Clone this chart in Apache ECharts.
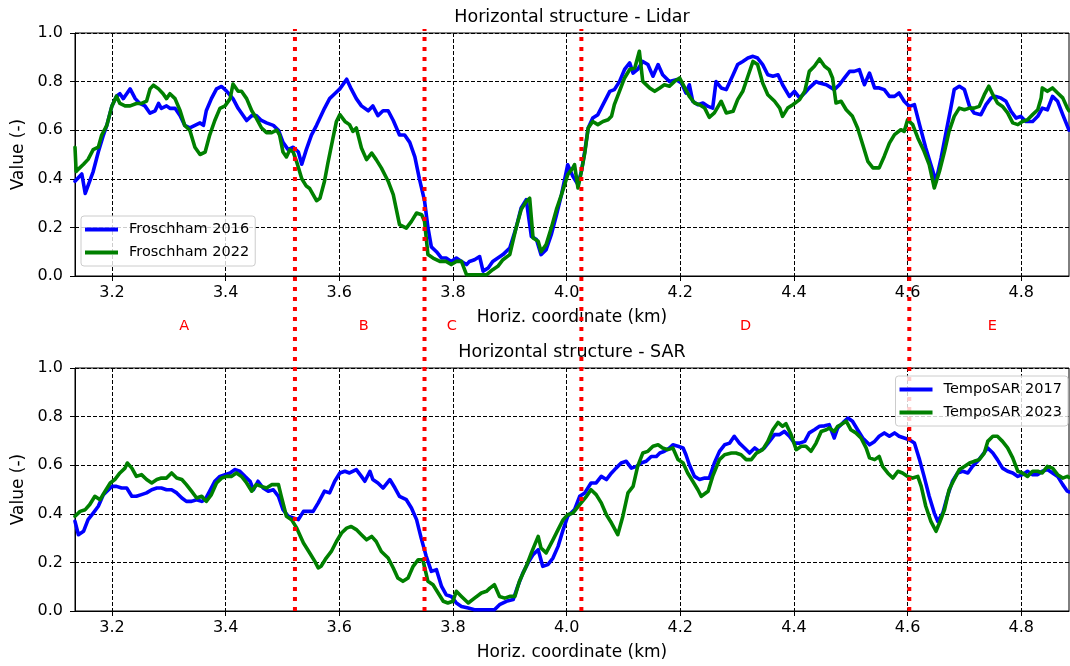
<!DOCTYPE html>
<html>
<head>
<meta charset="utf-8">
<script src="https://cdn.jsdelivr.net/npm/echarts@6/dist/echarts.min.js"></script>
<style>
  html, body { margin: 0; padding: 0; background: #fff; }
  #main { width: 1070px; height: 666px; }
</style>
</head>
<body>
<div id="main"></div>
<script>
var FONT = "DejaVu Sans";

// axis range and ticks (km)
var xMin = 3.135, xMax = 4.884;
var xTicks = [3.2, 3.4, 3.6, 3.8, 4.0, 4.2, 4.4, 4.6, 4.8];

// region boundaries (red dotted lines) and region letters
var boundaries = [3.522, 3.750, 4.026, 4.603];
var regionNames = ["A", "B", "C", "D", "E"];
var regionPos = [3.327, 3.643, 3.798, 4.315, 4.749];

// Lidar profiles [km, value]
var lidar2016 = [
  [3.135,0.39],[3.147,0.42],[3.153,0.34],[3.167,0.43],[3.176,0.51],[3.185,0.58],[3.191,0.62],[3.200,0.70],
  [3.208,0.74],[3.214,0.75],[3.220,0.73],[3.226,0.75],[3.232,0.77],[3.241,0.73],[3.249,0.71],[3.258,0.70],
  [3.267,0.67],[3.276,0.68],[3.282,0.71],[3.287,0.69],[3.296,0.70],[3.302,0.69],[3.311,0.69],[3.320,0.66],
  [3.328,0.62],[3.337,0.61],[3.346,0.62],[3.355,0.63],[3.361,0.62],[3.366,0.68],[3.375,0.73],[3.384,0.77],
  [3.393,0.78],[3.402,0.76],[3.413,0.73],[3.422,0.69],[3.437,0.64],[3.446,0.66],[3.454,0.66],[3.463,0.64],
  [3.472,0.63],[3.484,0.62],[3.493,0.60],[3.501,0.55],[3.510,0.52],[3.519,0.53],[3.528,0.51],[3.534,0.46],
  [3.542,0.52],[3.551,0.58],[3.560,0.62],[3.574,0.69],[3.583,0.73],[3.592,0.75],[3.601,0.77],[3.613,0.81],
  [3.621,0.77],[3.630,0.73],[3.639,0.70],[3.651,0.68],[3.659,0.70],[3.668,0.66],[3.677,0.68],[3.686,0.68],
  [3.695,0.64],[3.706,0.58],[3.715,0.58],[3.724,0.55],[3.733,0.49],[3.741,0.40],[3.750,0.31],[3.756,0.20],
  [3.762,0.12],[3.771,0.10],[3.780,0.074],[3.788,0.074],[3.797,0.06],[3.806,0.074],[3.815,0.06],[3.824,0.047],
  [3.829,0.06],[3.838,0.067],[3.847,0.08],[3.853,0.02],[3.862,0.033],[3.870,0.06],[3.879,0.074],[3.888,0.088],
  [3.900,0.115],[3.911,0.197],[3.920,0.28],[3.929,0.314],[3.938,0.163],[3.947,0.15],[3.955,0.088],[3.964,0.108],
  [3.973,0.17],[3.982,0.25],[3.991,0.335],[4.002,0.458],[4.011,0.41],[4.020,0.376],[4.026,0.43],[4.032,0.513],
  [4.038,0.609],[4.046,0.65],[4.055,0.664],[4.064,0.705],[4.076,0.76],[4.084,0.767],[4.093,0.80],[4.102,0.85],
  [4.111,0.877],[4.117,0.835],[4.125,0.85],[4.134,0.883],[4.143,0.87],[4.152,0.822],[4.161,0.87],[4.169,0.828],
  [4.181,0.80],[4.193,0.808],[4.202,0.794],[4.210,0.753],[4.216,0.787],[4.222,0.719],[4.231,0.705],[4.240,0.712],
  [4.249,0.698],[4.257,0.691],[4.263,0.80],[4.272,0.774],[4.281,0.767],[4.293,0.828],[4.301,0.87],[4.310,0.883],
  [4.319,0.897],[4.328,0.904],[4.336,0.897],[4.345,0.87],[4.354,0.828],[4.363,0.822],[4.372,0.828],[4.380,0.787],
  [4.392,0.739],[4.401,0.76],[4.410,0.733],[4.419,0.753],[4.427,0.774],[4.439,0.80],[4.445,0.794],[4.457,0.787],
  [4.471,0.767],[4.480,0.787],[4.489,0.815],[4.498,0.842],[4.506,0.842],[4.515,0.849],[4.524,0.787],[4.533,0.835],
  [4.542,0.774],[4.550,0.774],[4.559,0.767],[4.568,0.739],[4.577,0.739],[4.585,0.753],[4.594,0.719],[4.603,0.698],
  [4.612,0.705],[4.621,0.623],[4.632,0.527],[4.641,0.458],[4.650,0.39],[4.659,0.486],[4.668,0.595],[4.676,0.691],
  [4.682,0.767],[4.691,0.781],[4.700,0.767],[4.709,0.698],[4.717,0.671],[4.729,0.664],[4.738,0.705],[4.747,0.733],
  [4.755,0.739],[4.764,0.733],[4.773,0.719],[4.782,0.678],[4.791,0.65],[4.799,0.657],[4.808,0.636],[4.820,0.636],
  [4.829,0.657],[4.837,0.691],[4.846,0.684],[4.855,0.739],[4.864,0.719],[4.873,0.664],[4.884,0.60]
];
var lidar2022 = [
  [3.135,0.53],[3.137,0.43],[3.141,0.44],[3.150,0.46],[3.158,0.48],[3.167,0.52],[3.176,0.53],[3.182,0.58],
  [3.191,0.62],[3.200,0.70],[3.208,0.74],[3.214,0.71],[3.223,0.70],[3.232,0.70],[3.243,0.71],[3.252,0.71],
  [3.261,0.72],[3.267,0.77],[3.273,0.785],[3.282,0.77],[3.290,0.75],[3.296,0.73],[3.302,0.75],[3.311,0.73],
  [3.320,0.68],[3.328,0.62],[3.337,0.60],[3.346,0.53],[3.355,0.50],[3.364,0.51],[3.372,0.58],[3.381,0.64],
  [3.390,0.69],[3.399,0.70],[3.408,0.73],[3.413,0.79],[3.422,0.76],[3.428,0.76],[3.437,0.73],[3.446,0.68],
  [3.454,0.65],[3.463,0.61],[3.472,0.59],[3.481,0.59],[3.490,0.60],[3.495,0.58],[3.501,0.51],[3.507,0.49],
  [3.513,0.52],[3.519,0.51],[3.525,0.47],[3.534,0.40],[3.542,0.37],[3.548,0.36],[3.560,0.31],[3.566,0.32],
  [3.574,0.39],[3.580,0.465],[3.589,0.568],[3.595,0.636],[3.601,0.664],[3.610,0.636],[3.618,0.623],[3.624,0.595],
  [3.630,0.609],[3.639,0.527],[3.648,0.479],[3.657,0.506],[3.665,0.479],[3.674,0.445],[3.686,0.39],[3.695,0.335],
  [3.706,0.211],[3.718,0.197],[3.727,0.225],[3.736,0.259],[3.745,0.252],[3.750,0.225],[3.756,0.088],[3.765,0.074],
  [3.777,0.06],[3.788,0.06],[3.797,0.047],[3.806,0.06],[3.815,0.06],[3.824,0.005],[3.835,0.005],[3.847,0.005],
  [3.859,0.005],[3.870,0.026],[3.879,0.04],[3.888,0.067],[3.900,0.088],[3.911,0.197],[3.920,0.273],[3.929,0.307],
  [3.935,0.32],[3.941,0.156],[3.950,0.143],[3.955,0.10],[3.964,0.129],[3.973,0.197],[3.982,0.273],[3.991,0.335],
  [4.002,0.417],[4.011,0.445],[4.014,0.458],[4.020,0.362],[4.026,0.43],[4.032,0.506],[4.038,0.609],[4.046,0.636],
  [4.055,0.623],[4.064,0.636],[4.073,0.643],[4.079,0.657],[4.084,0.705],[4.093,0.76],[4.102,0.815],[4.111,0.85],
  [4.120,0.856],[4.128,0.925],[4.134,0.801],[4.146,0.774],[4.155,0.76],[4.164,0.774],[4.172,0.787],[4.181,0.781],
  [4.190,0.801],[4.199,0.815],[4.208,0.774],[4.216,0.739],[4.225,0.712],[4.234,0.705],[4.243,0.691],[4.251,0.653],
  [4.260,0.671],[4.272,0.719],[4.281,0.671],[4.293,0.678],[4.301,0.726],[4.310,0.76],[4.319,0.822],[4.328,0.883],
  [4.336,0.87],[4.345,0.794],[4.354,0.746],[4.366,0.719],[4.375,0.691],[4.380,0.657],[4.389,0.691],[4.398,0.705],
  [4.410,0.726],[4.419,0.76],[4.427,0.842],[4.436,0.863],[4.445,0.893],[4.454,0.863],[4.462,0.849],[4.468,0.815],
  [4.474,0.712],[4.483,0.719],[4.492,0.684],[4.503,0.657],[4.512,0.609],[4.521,0.541],[4.530,0.472],[4.539,0.445],
  [4.550,0.445],[4.559,0.493],[4.568,0.547],[4.577,0.582],[4.588,0.602],[4.594,0.595],[4.600,0.643],[4.609,0.623],
  [4.618,0.568],[4.629,0.513],[4.638,0.458],[4.647,0.362],[4.656,0.43],[4.665,0.513],[4.673,0.595],[4.682,0.657],
  [4.691,0.691],[4.700,0.684],[4.709,0.691],[4.717,0.691],[4.726,0.698],[4.735,0.746],[4.743,0.781],[4.750,0.746],
  [4.758,0.712],[4.767,0.698],[4.776,0.671],[4.785,0.63],[4.794,0.623],[4.802,0.636],[4.811,0.643],[4.820,0.664],
  [4.829,0.684],[4.835,0.733],[4.837,0.774],[4.846,0.76],[4.855,0.774],[4.864,0.753],[4.873,0.733],[4.881,0.691],
  [4.884,0.68]
];

// SAR profiles [km, value]
var sar2017 = [
  [3.135,0.369],[3.141,0.314],[3.150,0.328],[3.158,0.376],[3.167,0.403],[3.176,0.431],[3.185,0.479],[3.194,0.499],
  [3.200,0.513],[3.208,0.513],[3.217,0.506],[3.226,0.506],[3.235,0.472],[3.243,0.472],[3.252,0.479],[3.261,0.486],
  [3.270,0.499],[3.279,0.506],[3.287,0.506],[3.296,0.499],[3.305,0.499],[3.314,0.486],[3.323,0.465],[3.331,0.451],
  [3.340,0.451],[3.349,0.458],[3.358,0.451],[3.364,0.458],[3.372,0.493],[3.381,0.534],[3.390,0.554],[3.399,0.561],
  [3.408,0.568],[3.416,0.582],[3.425,0.575],[3.434,0.554],[3.443,0.534],[3.449,0.499],[3.457,0.534],[3.466,0.506],
  [3.475,0.493],[3.484,0.499],[3.493,0.472],[3.501,0.417],[3.510,0.39],[3.519,0.383],[3.528,0.376],[3.537,0.41],
  [3.545,0.41],[3.554,0.41],[3.563,0.445],[3.574,0.493],[3.583,0.486],[3.592,0.534],[3.601,0.568],[3.610,0.575],
  [3.618,0.568],[3.630,0.582],[3.639,0.554],[3.645,0.534],[3.654,0.575],[3.659,0.541],[3.668,0.527],[3.677,0.506],
  [3.689,0.541],[3.698,0.506],[3.706,0.472],[3.718,0.458],[3.727,0.424],[3.736,0.376],[3.744,0.301],[3.753,0.225],
  [3.762,0.163],[3.771,0.17],[3.780,0.101],[3.788,0.067],[3.797,0.06],[3.806,0.033],[3.815,0.019],[3.827,0.012],
  [3.838,0.005],[3.850,0.005],[3.862,0.005],[3.873,0.005],[3.882,0.026],[3.894,0.04],[3.906,0.047],[3.914,0.101],
  [3.923,0.156],[3.932,0.197],[3.941,0.232],[3.950,0.252],[3.958,0.184],[3.967,0.191],[3.976,0.218],[3.985,0.266],
  [3.994,0.335],[4.002,0.39],[4.014,0.417],[4.023,0.472],[4.032,0.486],[4.043,0.527],[4.052,0.527],[4.061,0.554],
  [4.070,0.541],[4.079,0.568],[4.087,0.588],[4.096,0.609],[4.105,0.616],[4.114,0.588],[4.123,0.595],[4.131,0.609],
  [4.140,0.616],[4.149,0.636],[4.158,0.636],[4.164,0.65],[4.172,0.657],[4.181,0.671],[4.187,0.684],[4.196,0.678],
  [4.205,0.671],[4.210,0.643],[4.216,0.602],[4.225,0.554],[4.234,0.541],[4.243,0.547],[4.251,0.547],[4.260,0.609],
  [4.269,0.657],[4.278,0.684],[4.287,0.691],[4.295,0.719],[4.304,0.691],[4.313,0.671],[4.322,0.65],[4.331,0.671],
  [4.339,0.657],[4.348,0.671],[4.357,0.698],[4.366,0.726],[4.375,0.726],[4.383,0.739],[4.392,0.719],[4.401,0.691],
  [4.410,0.691],[4.419,0.698],[4.427,0.733],[4.436,0.746],[4.445,0.76],[4.454,0.762],[4.462,0.767],[4.471,0.712],
  [4.477,0.753],[4.486,0.774],[4.495,0.794],[4.503,0.781],[4.512,0.746],[4.521,0.712],[4.533,0.684],[4.542,0.698],
  [4.550,0.719],[4.559,0.733],[4.568,0.719],[4.577,0.733],[4.585,0.719],[4.594,0.712],[4.603,0.705],[4.612,0.691],
  [4.621,0.623],[4.629,0.554],[4.638,0.472],[4.647,0.403],[4.653,0.369],[4.662,0.403],[4.670,0.472],[4.679,0.534],
  [4.688,0.568],[4.697,0.575],[4.706,0.568],[4.714,0.595],[4.723,0.616],[4.732,0.643],[4.741,0.671],[4.750,0.65],
  [4.758,0.623],[4.767,0.588],[4.776,0.575],[4.785,0.568],[4.794,0.554],[4.802,0.561],[4.811,0.575],[4.820,0.561],
  [4.829,0.561],[4.837,0.575],[4.846,0.582],[4.855,0.568],[4.864,0.554],[4.873,0.52],[4.881,0.493],[4.884,0.49]
];
var sar2023 = [
  [3.135,0.39],[3.144,0.41],[3.153,0.417],[3.161,0.438],[3.170,0.472],[3.179,0.458],[3.188,0.493],[3.197,0.527],
  [3.205,0.541],[3.214,0.568],[3.223,0.588],[3.227,0.609],[3.235,0.588],[3.243,0.554],[3.252,0.561],[3.261,0.541],
  [3.270,0.527],[3.279,0.541],[3.287,0.547],[3.296,0.547],[3.305,0.568],[3.314,0.547],[3.323,0.541],[3.331,0.52],
  [3.340,0.493],[3.349,0.465],[3.358,0.472],[3.366,0.451],[3.375,0.479],[3.384,0.527],[3.393,0.547],[3.402,0.554],
  [3.410,0.554],[3.419,0.568],[3.428,0.554],[3.437,0.527],[3.446,0.493],[3.454,0.52],[3.463,0.513],[3.472,0.506],
  [3.481,0.52],[3.493,0.52],[3.498,0.472],[3.507,0.39],[3.516,0.376],[3.525,0.342],[3.537,0.28],[3.548,0.239],
  [3.557,0.204],[3.563,0.177],[3.568,0.184],[3.577,0.218],[3.586,0.245],[3.595,0.286],[3.604,0.321],[3.613,0.341],
  [3.621,0.348],[3.630,0.335],[3.639,0.314],[3.648,0.293],[3.657,0.307],[3.665,0.286],[3.674,0.245],[3.686,0.218],
  [3.695,0.177],[3.703,0.136],[3.712,0.122],[3.721,0.136],[3.730,0.184],[3.739,0.211],[3.747,0.211],[3.756,0.122],
  [3.765,0.108],[3.774,0.074],[3.783,0.04],[3.791,0.033],[3.800,0.04],[3.806,0.081],[3.815,0.06],[3.827,0.033],
  [3.838,0.053],[3.850,0.074],[3.859,0.081],[3.865,0.094],[3.873,0.108],[3.882,0.06],[3.891,0.053],[3.900,0.06],
  [3.909,0.06],[3.917,0.122],[3.929,0.184],[3.938,0.239],[3.950,0.307],[3.955,0.259],[3.964,0.239],[3.976,0.293],
  [3.985,0.335],[3.994,0.376],[4.002,0.396],[4.011,0.403],[4.014,0.396],[4.023,0.438],[4.035,0.472],[4.043,0.499],
  [4.052,0.479],[4.061,0.445],[4.070,0.396],[4.079,0.362],[4.090,0.314],[4.099,0.39],[4.108,0.486],[4.117,0.513],
  [4.125,0.595],[4.134,0.65],[4.143,0.657],[4.152,0.678],[4.161,0.684],[4.169,0.671],[4.178,0.664],[4.187,0.671],
  [4.196,0.623],[4.205,0.609],[4.213,0.568],[4.222,0.534],[4.231,0.499],[4.237,0.472],[4.249,0.493],[4.257,0.554],
  [4.269,0.623],[4.278,0.643],[4.290,0.65],[4.298,0.65],[4.307,0.643],[4.316,0.623],[4.325,0.623],[4.334,0.65],
  [4.345,0.664],[4.354,0.698],[4.363,0.746],[4.372,0.776],[4.380,0.76],[4.386,0.771],[4.395,0.726],[4.404,0.664],
  [4.413,0.678],[4.421,0.678],[4.430,0.657],[4.439,0.691],[4.448,0.739],[4.457,0.746],[4.462,0.753],[4.471,0.739],
  [4.477,0.76],[4.483,0.767],[4.492,0.781],[4.500,0.746],[4.509,0.733],[4.518,0.712],[4.527,0.671],[4.533,0.63],
  [4.542,0.623],[4.550,0.636],[4.556,0.595],[4.565,0.568],[4.574,0.547],[4.583,0.575],[4.591,0.568],[4.600,0.554],
  [4.609,0.547],[4.618,0.554],[4.624,0.513],[4.632,0.431],[4.641,0.369],[4.650,0.328],[4.656,0.362],[4.665,0.417],
  [4.673,0.499],[4.682,0.541],[4.691,0.582],[4.700,0.595],[4.709,0.609],[4.717,0.616],[4.726,0.623],[4.735,0.65],
  [4.741,0.698],[4.750,0.719],[4.758,0.719],[4.767,0.698],[4.776,0.671],[4.785,0.63],[4.794,0.575],[4.802,0.568],
  [4.811,0.554],[4.820,0.575],[4.829,0.575],[4.837,0.568],[4.846,0.595],[4.855,0.588],[4.864,0.561],[4.873,0.547],
  [4.881,0.554],[4.884,0.55]
];

var chart = echarts.init(document.getElementById("main"));

function xAxisFor(gi) {
  return {
    gridIndex: gi,
    type: "value",
    min: xMin,
    max: xMax,
    name: "Horiz. coordinate (km)",
    nameLocation: "middle",
    nameGap: 33,
    nameTextStyle: { color: "#000", fontSize: 17, fontFamily: FONT },
    axisLine: { onZero: false, lineStyle: { color: "#000", width: 1 } },
    axisTick: { customValues: xTicks, length: 5, lineStyle: { color: "#000" } },
    axisLabel: {
      customValues: xTicks,
      color: "#000",
      fontSize: 16,
      fontFamily: FONT,
      margin: 9,
      formatter: function (v) { return v.toFixed(1); },
    },
    splitLine: { show: true, lineStyle: { color: "#000", type: [4, 2], width: 1 } },
  };
}

function yAxisFor(gi) {
  return {
    gridIndex: gi,
    type: "value",
    min: 0,
    max: 1,
    interval: 0.2,
    name: "Value (-)",
    nameLocation: "middle",
    nameGap: 42,
    nameRotate: 90,
    nameTextStyle: { color: "#000", fontSize: 17, fontFamily: FONT },
    axisLine: { show: true, lineStyle: { color: "#000", width: 1 } },
    axisTick: { show: true, length: 5, lineStyle: { color: "#000" } },
    axisLabel: {
      color: "#000",
      fontSize: 16,
      fontFamily: FONT,
      margin: 12,
      formatter: function (v) { return v.toFixed(1); },
    },
    splitLine: { show: true, lineStyle: { color: "#000", type: [4, 2], width: 1 } },
  };
}

function profile(name, data, color, gi) {
  return {
    name: name,
    type: "line",
    xAxisIndex: gi,
    yAxisIndex: gi,
    data: data,
    showSymbol: false,
    symbol: "none",
    lineStyle: { color: color, width: 3.6, join: "round", cap: "round" },
    itemStyle: { color: color },
    z: 3,
  };
}

var series = [
  profile("Froschham 2016", lidar2016, "#0000ff", 0),
  profile("Froschham 2022", lidar2022, "#008000", 0),
  profile("TempoSAR 2017", sar2017, "#0000ff", 1),
  profile("TempoSAR 2023", sar2023, "#008000", 1),
];

// red dotted boundaries spanning both panels
boundaries.forEach(function (b) {
  series.push({
    type: "line",
    xAxisIndex: 2,
    yAxisIndex: 2,
    data: [[b, 0], [b, 1]],
    showSymbol: false,
    symbol: "none",
    silent: true,
    lineStyle: { color: "#ff0000", width: 4, type: [4, 6] },
    z: 6,
  });
});

var legendBase = {
  orient: "vertical",
  icon: "rect",
  itemWidth: 33,
  itemHeight: 4,
  itemGap: 8,
  padding: [6, 6, 6, 4],
  backgroundColor: "rgba(255,255,255,0.8)",
  borderColor: "#cccccc",
  borderWidth: 1,
  borderRadius: 3,
  textStyle: { color: "#000", fontSize: 14.5, fontFamily: FONT, padding: [0, 0, 0, 6] },
  z: 10,
};

var option = {
  animation: false,
  backgroundColor: "#fff",
  grid: [
    { left: 75, right: 1, top: 33, height: 243, show: true, borderColor: "#000", borderWidth: 1 },
    { left: 75, right: 1, top: 368, height: 243, show: true, borderColor: "#000", borderWidth: 1 },
    { left: 75, right: 1, top: 29, height: 582 },
  ],
  xAxis: [
    xAxisFor(0),
    xAxisFor(1),
    { gridIndex: 2, type: "value", min: xMin, max: xMax, show: false },
  ],
  yAxis: [
    yAxisFor(0),
    yAxisFor(1),
    { gridIndex: 2, type: "value", min: 0, max: 1, show: false },
  ],
  legend: [
    Object.assign({}, legendBase, { data: ["Froschham 2016", "Froschham 2022"], left: 81, top: 216 }),
    Object.assign({}, legendBase, { data: ["TempoSAR 2017", "TempoSAR 2023"], right: 2, top: 376 }),
  ],
  series: series,
};

chart.setOption(option);

// titles and region letters
var gfx = [
  { type: "text", x: 572, y: 17, style: { text: "Horizontal structure - Lidar", fill: "#000", font: "17.5px " + FONT, align: "center", verticalAlign: "middle" } },
  { type: "text", x: 572, y: 352, style: { text: "Horizontal structure - SAR", fill: "#000", font: "17.5px " + FONT, align: "center", verticalAlign: "middle" } },
];
regionNames.forEach(function (n, i) {
  var px = chart.convertToPixel({ xAxisIndex: 0 }, regionPos[i]);
  gfx.push({ type: "text", x: px, y: 326, style: { text: n, fill: "#ff0000", font: "14.5px " + FONT, align: "center", verticalAlign: "middle" }, z: 10 });
});
chart.setOption({ graphic: gfx });

window.addEventListener("resize", function () {
  chart.resize();
});
</script>
</body>
</html>
